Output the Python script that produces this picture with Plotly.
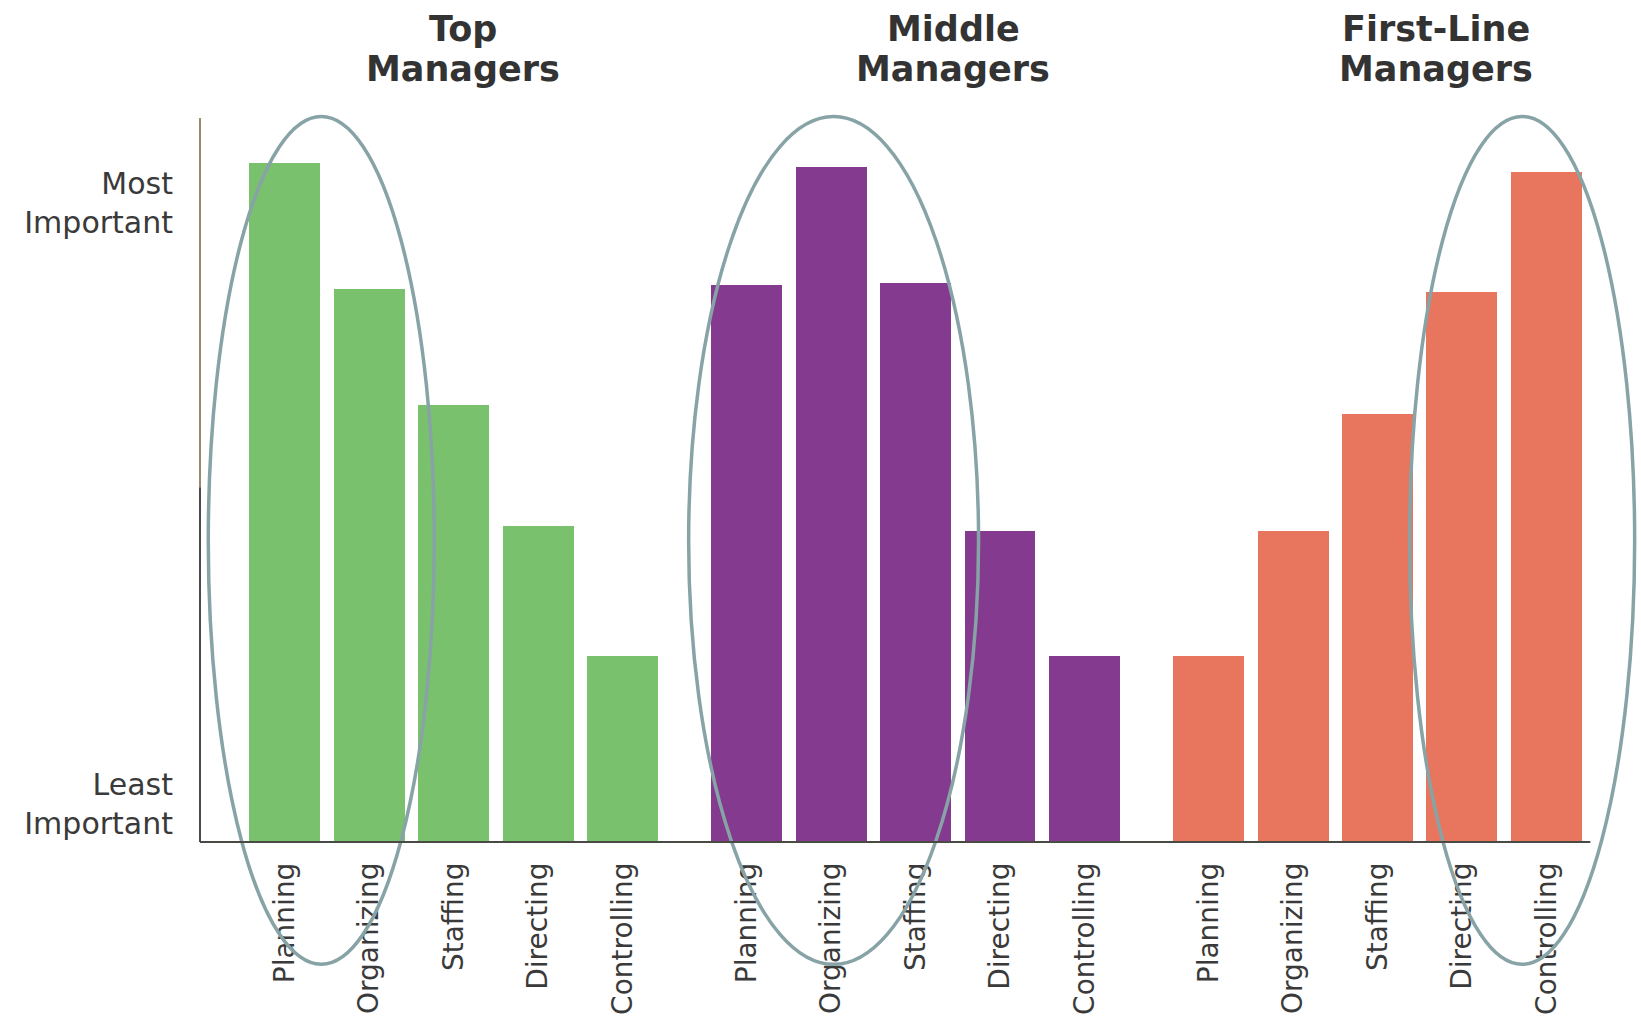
import plotly.graph_objects as go

# ---- data ----
functions = ["Planning", "Organizing", "Staffing", "Directing", "Controlling"]
groups = ["Top<br>Managers", "Middle<br>Managers", "First-Line<br>Managers"]
top_values = [93.8, 76.4, 60.3, 43.6, 25.7]
middle_values = [77.0, 93.2, 77.2, 42.9, 25.7]
first_line_values = [25.7, 42.9, 59.1, 75.9, 92.6]
y_tick_vals = [88.3, 5.3]
y_tick_text = ["Most<br>Important", "Least<br>Important"]

colors = ["#79C16D", "#843A8F", "#E8755D"]
group_gap = 5.47
bar_width = 0.84
x_range = [-1.003, 16.06]
y_range = [0, 100]

all_values = [top_values, middle_values, first_line_values]

fig = go.Figure()
tickvals, ticktext = [], []
for g, vals in enumerate(all_values):
    xs = [g * group_gap + i for i in range(len(functions))]
    tickvals += xs
    ticktext += functions
    fig.add_trace(go.Bar(x=xs, y=vals, width=bar_width,
                         marker=dict(color=colors[g], line=dict(width=0)),
                         showlegend=False, hoverinfo="skip"))

def ypaper(v):
    return (v - y_range[0]) / (y_range[1] - y_range[0])

# highlight ellipses (x in data units, y extents in data units)
ellipses = [(-0.905, 1.771), (4.783, 8.216), (13.32, 15.985)]
ell_y = (-16.9, 100.2)
for x0, x1 in ellipses:
    fig.add_shape(type="circle", xref="x", yref="paper",
                  x0=x0, x1=x1, y0=ypaper(ell_y[0]), y1=ypaper(ell_y[1]),
                  line=dict(color="#87A3A6", width=3.5), layer="above")

# baseline
fig.add_shape(type="line", xref="x", yref="paper", x0=x_range[0], x1=15.46,
              y0=0, y1=0, line=dict(color="#4a4a44", width=2))
# y-axis line (two tones)
fig.add_shape(type="line", xref="paper", yref="y", x0=0, x1=0,
              y0=49.0, y1=100, line=dict(color="#9a8a68", width=2))
fig.add_shape(type="line", xref="paper", yref="y", x0=0, x1=0,
              y0=0, y1=49.0, line=dict(color="#4a4a4a", width=2))

# group titles (two lines each, placed separately for tighter spacing)
title_x = [2.106, 7.918, 13.63]
line_y = [1.1229, 1.0673]
for t, xx in zip(groups, title_x):
    for line, yy in zip(t.split("<br>"), line_y):
        fig.add_annotation(text="<b>" + line + "</b>",
                           x=xx, xref="x", y=yy, yref="paper",
                           xanchor="center", yanchor="middle", showarrow=False,
                           font=dict(family="DejaVu Sans", size=35, color="#333333"))

fig.update_layout(
    width=1641, height=1021,
    margin=dict(l=200, r=0, t=118, b=179),
    plot_bgcolor="white", paper_bgcolor="white",
    bargap=0,
    font=dict(family="DejaVu Sans", color="#3a3a3a"),
    xaxis=dict(range=x_range, tickvals=tickvals, ticktext=ticktext,
               tickangle=-90, showgrid=False, zeroline=False, showline=False,
               ticks="", tickfont=dict(size=28, color="#3a3a3a"),
               ticklabelstandoff=14),
    yaxis=dict(range=y_range, tickvals=y_tick_vals, ticktext=y_tick_text,
               showgrid=False, zeroline=False, showline=False, ticks="",
               tickfont=dict(size=30, color="#3a3a3a"), ticklabelstandoff=26),
)

fig.write_html("out.html")
